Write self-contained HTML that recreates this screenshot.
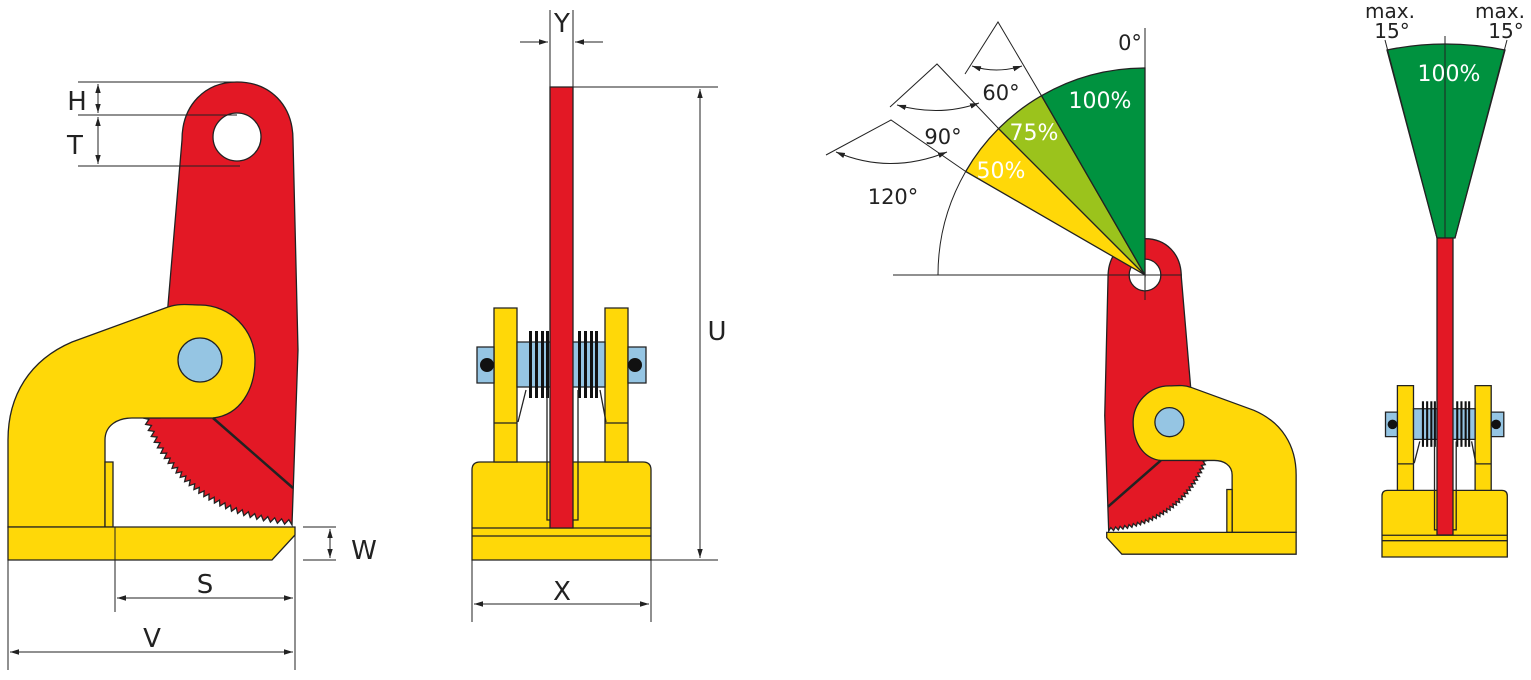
<!DOCTYPE html>
<html><head><meta charset="utf-8"><style>
html,body{margin:0;padding:0;background:#fff}
svg{display:block}
text{font-family:"DejaVu Sans","Liberation Sans",sans-serif;fill:#222}
.s{stroke:#222;stroke-width:1.3;vector-effect:non-scaling-stroke}
.t{stroke:#222;stroke-width:1;fill:none}
</style></head><body>
<svg width="1531" height="680" viewBox="0 0 1531 680" xmlns="http://www.w3.org/2000/svg">
<defs>
<marker id="a" viewBox="0 0 10 10" refX="10" refY="5" markerWidth="9" markerHeight="9" orient="auto-start-reverse" markerUnits="userSpaceOnUse"><path d="M0,2 L10,5 L0,8 Z" fill="#222"/></marker>
<g id="clamp">
<path id="redarm" class="s" fill="#e31825" d="M182,140 C182,105 205,82 237,82 C270,82 293,105 293,140 L298,350 L292,525 Q180,515 143,418 L160,418 L168,305 Z"/>
<circle class="s" cx="237" cy="137" r="24" fill="#fff"/>
<path class="s" fill="#ffd808" d="M168,307 L72,342 C30,360 8,395 8,440 L8,527 L105,527 L105,440 C105,425 118,418 132,418 L213,418 C240,415 255,390 255,360 C255,330 230,305 200,305 C190,305 180,303 168,307 Z"/>
<circle class="s" cx="200" cy="360" r="22" fill="#95c5e3"/>
<line class="s" x1="213" y1="418" x2="293" y2="488" style="stroke-width:2.5"/>
<rect class="s" x="105" y="462" width="8" height="65" fill="#ffd808"/>
<path class="s" fill="#ffd808" d="M8,527 L295,527 L295,535 L272,560 L8,560 Z"/>
</g>
<g id="front">
<path class="s" fill="#ffd808" d="M472,560 L472,470 Q472,462 480,462 L643,462 Q651,462 651,470 L651,560 Z"/>
<line class="s" x1="472" y1="528" x2="651" y2="528"/>
<line class="s" x1="472" y1="536" x2="651" y2="536"/>
<rect class="s" x="494" y="308" width="23" height="154" fill="#ffd808"/>
<rect class="s" x="605" y="308" width="23" height="154" fill="#ffd808"/>
<line class="s" x1="494" y1="423" x2="517" y2="423"/>
<line class="s" x1="605" y1="423" x2="628" y2="423"/>
<rect class="s" x="477" y="347" width="17" height="36" fill="#95c5e3"/>
<rect class="s" x="628" y="347" width="18" height="36" fill="#95c5e3"/>
<rect class="s" x="517" y="342" width="88" height="45" fill="#95c5e3"/>
<circle cx="487" cy="365" r="7" fill="#111"/>
<circle cx="635" cy="365" r="7" fill="#111"/>
<g fill="#111">
<rect x="529" y="331" width="3" height="67"/><rect x="535" y="331" width="3" height="67"/><rect x="541" y="331" width="3" height="67"/><rect x="546" y="331" width="3" height="67"/>
<rect x="578" y="331" width="3" height="67"/><rect x="584" y="331" width="3" height="67"/><rect x="590" y="331" width="3" height="67"/><rect x="595" y="331" width="3" height="67"/>
</g>
<line class="s" x1="526" y1="390" x2="518" y2="422"/>
<line class="s" x1="600" y1="390" x2="606" y2="422"/>
<path class="s" fill="none" d="M547,390 L547,520 L578,520 L578,390"/>
</g>
</defs>

<!-- LEFT CLAMP -->
<use href="#clamp"/>
<g class="t">
<line x1="78" y1="82" x2="240" y2="82"/><line x1="78" y1="115" x2="237" y2="115"/><line x1="78" y1="166" x2="240" y2="166"/>
<line x1="98" y1="84" x2="98" y2="113" marker-start="url(#a)" marker-end="url(#a)"/>
<line x1="98" y1="117" x2="98" y2="164" marker-start="url(#a)" marker-end="url(#a)"/>
<line x1="303" y1="527" x2="336" y2="527"/><line x1="303" y1="560" x2="336" y2="560"/>
<line x1="330" y1="529" x2="330" y2="558" marker-start="url(#a)" marker-end="url(#a)"/>
<line x1="115" y1="527" x2="115" y2="612"/><line x1="295" y1="535" x2="295" y2="670"/><line x1="8" y1="560" x2="8" y2="670"/>
<line x1="117" y1="598" x2="293" y2="598" marker-start="url(#a)" marker-end="url(#a)"/>
<line x1="10" y1="652" x2="293" y2="652" marker-start="url(#a)" marker-end="url(#a)"/>
</g>
<text x="77" y="110" font-size="26" text-anchor="middle">H</text>
<text x="75" y="154" font-size="26" text-anchor="middle">T</text>
<text x="364" y="559" font-size="26" text-anchor="middle">W</text>
<text x="205" y="593" font-size="26" text-anchor="middle">S</text>
<text x="152" y="647" font-size="26" text-anchor="middle">V</text>

<!-- MIDDLE FRONT -->
<use href="#front"/>
<rect class="s" x="550" y="87" width="23" height="441" fill="#e31825"/>
<g class="t">
<line x1="550" y1="10" x2="550" y2="87"/><line x1="573" y1="10" x2="573" y2="87"/>
<line x1="520" y1="42" x2="548" y2="42" marker-end="url(#a)"/>
<line x1="603" y1="42" x2="575" y2="42" marker-end="url(#a)"/>
<line x1="573" y1="87" x2="718" y2="87"/><line x1="651" y1="560" x2="718" y2="560"/>
<line x1="700" y1="89" x2="700" y2="558" marker-start="url(#a)" marker-end="url(#a)"/>
<line x1="472" y1="560" x2="472" y2="622"/><line x1="651" y1="560" x2="651" y2="622"/>
<line x1="474" y1="604" x2="649" y2="604" marker-start="url(#a)" marker-end="url(#a)"/>
</g>
<text x="562" y="32" font-size="26" text-anchor="middle">Y</text>
<text x="717" y="340" font-size="26" text-anchor="middle">U</text>
<text x="562" y="600" font-size="26" text-anchor="middle">X</text>

<!-- ANGLE DIAGRAM -->
<use href="#clamp" transform="translate(1145,275) scale(-0.66,0.66) translate(-237,-137)"/>
<path class="s" fill="#ffd808" d="M1145,275 L965.7,171.5 A207,207 0 0 1 998.6,128.6 Z"/>
<path class="s" fill="#9bc31c" d="M1145,275 L998.6,128.6 A207,207 0 0 1 1041.5,95.7 Z"/>
<path class="s" fill="#00923f" d="M1145,275 L1041.5,95.7 A207,207 0 0 1 1145,68 Z"/>
<path class="t" d="M965.7,171.5 A207,207 0 0 0 938,275"/>
<g class="t">
<line x1="893" y1="275" x2="1182" y2="275"/>
<line x1="1145" y1="28" x2="1145" y2="300"/>
<polyline points="965,74 998,22 1041.5,95.7"/>
<polyline points="890,107 937,64 998.6,128.6"/>
<polyline points="826,155 891,120 965.7,171.5"/>
<path d="M972,66 Q996,74 1022,66" marker-start="url(#a)" marker-end="url(#a)"/>
<path d="M897,105 Q940,117 979,103" marker-start="url(#a)" marker-end="url(#a)"/>
<path d="M836,152 Q890,175 947,152" marker-start="url(#a)" marker-end="url(#a)"/>
</g>
<text x="1130" y="50" font-size="21" text-anchor="middle">0°</text>
<text x="1001" y="100" font-size="21" text-anchor="middle">60°</text>
<text x="943" y="144" font-size="21" text-anchor="middle">90°</text>
<text x="893" y="204" font-size="21" text-anchor="middle">120°</text>
<text x="1100" y="108" font-size="22" text-anchor="middle" style="fill:#fff">100%</text>
<text x="1034" y="140" font-size="22" text-anchor="middle" style="fill:#fff">75%</text>
<text x="1001" y="178" font-size="22" text-anchor="middle" style="fill:#fff">50%</text>

<!-- RIGHT FRONT -->
<use href="#front" transform="translate(1445,557) scale(0.7,0.68) translate(-562,-560)"/>
<path class="s" fill="#00923f" d="M1437,238 L1387,50 Q1445,38 1505,50 L1455,238 Z"/>
<line class="t" x1="1445" y1="36" x2="1445" y2="238"/>
<line class="t" x1="1385" y1="40" x2="1437" y2="238"/>
<line class="t" x1="1507" y1="40" x2="1455" y2="238"/>
<rect class="s" x="1437" y="238" width="16" height="297" fill="#e31825"/>
<text x="1449" y="81" font-size="22" text-anchor="middle" style="fill:#fff">100%</text>
<text x="1390" y="18" font-size="20" text-anchor="middle">max.</text>
<text x="1392" y="38" font-size="20" text-anchor="middle">15°</text>
<text x="1500" y="18" font-size="20" text-anchor="middle">max.</text>
<text x="1506" y="38" font-size="20" text-anchor="middle">15°</text>
</svg>
<script>
(function(){
 var p=document.getElementById('redarm');
 var P0=[292,525],C=[180,515],P1=[143,418];
 var n=30,d="M182,140 C182,105 205,82 237,82 C270,82 293,105 293,140 L298,350 L292,525";
 function q(t){return [(1-t)*(1-t)*P0[0]+2*(1-t)*t*C[0]+t*t*P1[0],(1-t)*(1-t)*P0[1]+2*(1-t)*t*C[1]+t*t*P1[1]];}
 for(var i=0;i<n;i++){
  var a=q(i/n),b=q((i+1)/n),m=q((i+0.5)/n);
  var dx=b[0]-a[0],dy=b[1]-a[1],L=Math.hypot(dx,dy);
  var nx=-dy/L,ny=dx/L;
  d+=" L"+(m[0]+nx*5).toFixed(1)+","+(m[1]+ny*5).toFixed(1)+" L"+b[0].toFixed(1)+","+b[1].toFixed(1);
 }
 d+=" L160,418 L168,305 Z";
 p.setAttribute('d',d);
})();
</script>
</body></html>
